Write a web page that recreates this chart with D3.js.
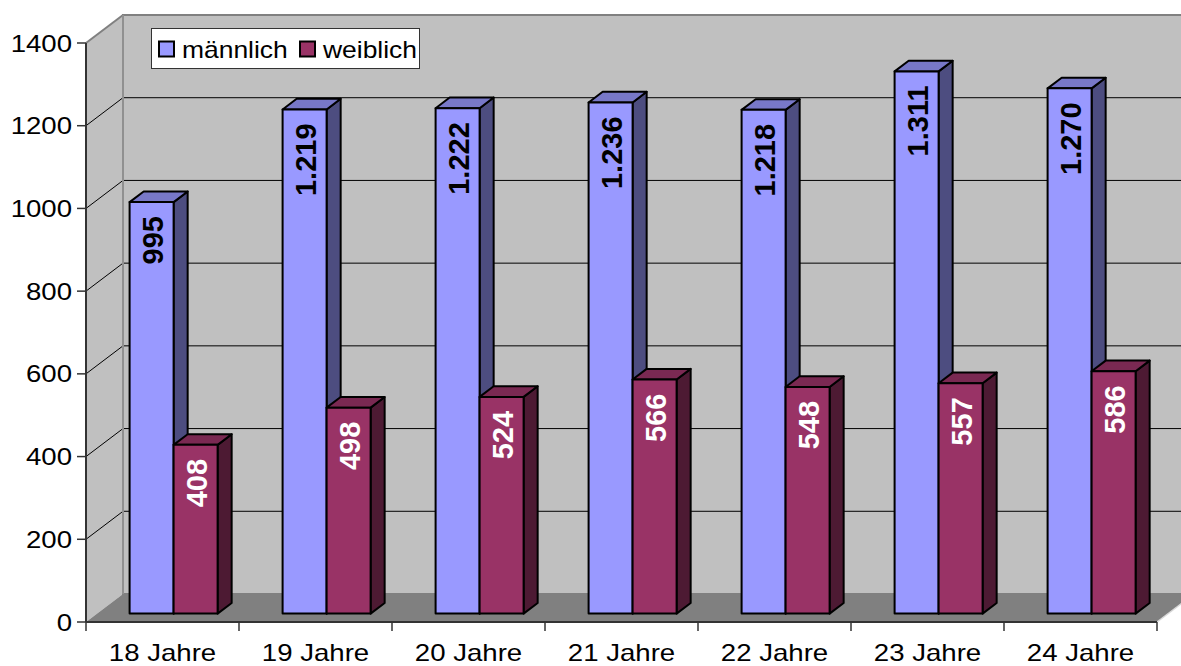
<!DOCTYPE html>
<html lang="de">
<head>
    <meta charset="UTF-8">
    <title>männlich / weiblich nach Alter</title>
    <script src="https://d3js.org/d3.v7.min.js"></script>
    <style>
        body { margin: 0; background: #fff; }
        svg { display: block; }
        text { font-family: Arial, "Liberation Sans", sans-serif; }
    </style>
</head>
<body>
    <svg width="1181" height="666"></svg>
    <script>
        const categories = ["18 Jahre", "19 Jahre", "20 Jahre", "21 Jahre", "22 Jahre", "23 Jahre", "24 Jahre"];
        const maennlich = [995, 1219, 1222, 1236, 1218, 1311, 1270];
        const weiblich = [408, 498, 524, 566, 548, 557, 586];
        const yTicks = [0, 200, 400, 600, 800, 1000, 1200, 1400];
        const seriesNames = ["männlich", "weiblich"];

        const series = [
            { name: seriesNames[0], values: maennlich, front: "#9999ff", top: "#7878c8", side: "#4d4d80", label: "#000" },
            { name: seriesNames[1], values: weiblich, front: "#993366", top: "#7a2952", side: "#4d1a33", label: "#fff" }
        ];

        // 3d depth offset of the plot box
        const DX = 37, DY = -28;
        const zFront = 0.3, zBack = 0.68;
        const stretch = 1.2; // text in the original is drawn wider than normal

        const svg = d3.select("svg");

        const x = d3.scaleBand().domain(categories).range([86, 1157]);
        const y = d3.scaleLinear().domain([0, 1400]).range([622, 43]);
        const groupW = 88;
        const xs = d3.scaleBand().domain(seriesNames).range([0, groupW]);

        const x0 = 86, x1 = 1157, yTop = y(1400), yBase = y(0);
        const poly = pts => pts.map(p => p.join(",")).join(" ");

        // left wall
        svg.append("polygon")
            .attr("points", poly([[x0, yTop], [x0 + DX, yTop + DY], [x0 + DX, yBase + DY], [x0, yBase]]))
            .attr("fill", "#c0c0c0");

        // back wall
        svg.append("rect")
            .attr("x", x0 + DX).attr("y", yTop + DY)
            .attr("width", x1 - x0 + 2).attr("height", yBase - yTop)
            .attr("fill", "#c0c0c0")
            .attr("stroke", "#808080").attr("stroke-width", 2);

        // floor
        svg.append("polygon")
            .attr("points", poly([[x0, yBase], [x0 + DX, yBase + DY], [x1 + DX, yBase + DY], [x1, yBase]]))
            .attr("fill", "#808080");
        svg.append("line")
            .attr("x1", x1).attr("y1", yBase).attr("x2", x1 + DX).attr("y2", yBase + DY)
            .attr("stroke", "#d8d8d8").attr("stroke-width", 1.5);

        // gridlines on back wall and left wall
        yTicks.filter(t => t > 0 && t < 1400).forEach(t => {
            svg.append("line")
                .attr("x1", x0 + DX).attr("x2", x1 + DX + 10)
                .attr("y1", y(t) + DY).attr("y2", y(t) + DY)
                .attr("stroke", "#000").attr("stroke-width", 1);
            svg.append("line")
                .attr("x1", x0).attr("y1", y(t))
                .attr("x2", x0 + DX).attr("y2", y(t) + DY)
                .attr("stroke", "#000").attr("stroke-width", 1);
        });

        // wall edges
        svg.append("line")
            .attr("x1", x0).attr("y1", yTop).attr("x2", x0 + DX).attr("y2", yTop + DY)
            .attr("stroke", "#808080").attr("stroke-width", 2);
        svg.append("line")
            .attr("x1", x0 + DX).attr("y1", yTop + DY).attr("x2", x0 + DX).attr("y2", yBase + DY)
            .attr("stroke", "#909090").attr("stroke-width", 2);

        // bars
        const fmt = d3.formatLocale({ decimal: ",", thousands: ".", grouping: [3], currency: ["", "€"] }).format(",d");
        const fdx = zFront * DX, fdy = zFront * DY;
        const ddx = (zBack - zFront) * DX, ddy = (zBack - zFront) * DY;

        categories.forEach((c, i) => {
            series.forEach(s => {
                const v = s.values[i];
                const xl = x(c) + (x.bandwidth() - groupW) / 2 + xs(s.name) + fdx;
                const xr = xl + xs.bandwidth();
                const yb = y(0) + fdy;
                const yt = y(v) + fdy;
                const g = svg.append("g")
                    .attr("stroke", "#000").attr("stroke-width", 2).attr("stroke-linejoin", "round");
                g.append("polygon")
                    .attr("points", poly([[xr, yt], [xr + ddx, yt + ddy], [xr + ddx, yb + ddy], [xr, yb]]))
                    .attr("fill", s.side);
                g.append("polygon")
                    .attr("points", poly([[xl, yt], [xl + ddx, yt + ddy], [xr + ddx, yt + ddy], [xr, yt]]))
                    .attr("fill", s.top);
                g.append("rect")
                    .attr("x", xl).attr("y", yt)
                    .attr("width", xr - xl).attr("height", yb - yt)
                    .attr("fill", s.front);
                svg.append("text")
                    .attr("transform", `translate(${(xl + xr) / 2 + 11}, ${yt + 14}) rotate(-90)`)
                    .attr("text-anchor", "end")
                    .attr("font-size", 29)
                    .attr("font-weight", "bold")
                    .attr("fill", s.label)
                    .text(fmt(v));
            });
        });

        // value axis
        svg.append("line")
            .attr("x1", x0).attr("x2", x0).attr("y1", yTop).attr("y2", yBase)
            .attr("stroke", "#333").attr("stroke-width", 2);
        yTicks.forEach(t => {
            svg.append("line")
                .attr("x1", x0 - 9).attr("x2", x0).attr("y1", y(t)).attr("y2", y(t))
                .attr("stroke", "#333").attr("stroke-width", 1.5);
            svg.append("text")
                .attr("transform", `translate(72, ${y(t) + 8.5}) scale(${stretch}, 1)`)
                .attr("text-anchor", "end")
                .attr("font-size", 23)
                .attr("fill", "#000")
                .text(t);
        });

        // category axis
        svg.append("line")
            .attr("x1", x0).attr("x2", x1).attr("y1", yBase).attr("y2", yBase)
            .attr("stroke", "#333").attr("stroke-width", 2);
        categories.concat([null]).forEach(c => {
            const xt = c ? x(c) : x1;
            svg.append("line")
                .attr("x1", xt).attr("x2", xt).attr("y1", yBase).attr("y2", yBase + 9)
                .attr("stroke", "#333").attr("stroke-width", 1.5);
        });
        categories.forEach(c => {
            svg.append("text")
                .attr("transform", `translate(${x(c) + x.bandwidth() / 2}, 661) scale(${stretch}, 1)`)
                .attr("text-anchor", "middle")
                .attr("font-size", 23)
                .attr("fill", "#000")
                .text(c);
        });

        // legend
        const legend = svg.append("g");
        legend.append("rect")
            .attr("x", 151.5).attr("y", 28.5).attr("width", 268).attr("height", 40)
            .attr("fill", "#fff").attr("stroke", "#333").attr("stroke-width", 1);
        const legendX = [158, 299];
        series.forEach((s, i) => {
            legend.append("rect")
                .attr("x", legendX[i] + 1).attr("y", 41.5).attr("width", 15).attr("height", 15)
                .attr("fill", s.front).attr("stroke", "#000").attr("stroke-width", 2);
            legend.append("text")
                .attr("transform", `translate(${legendX[i] + 24}, 57.5) scale(1.15, 1)`)
                .attr("font-size", 23)
                .attr("fill", "#000")
                .text(s.name);
        });
    </script>
</body>
</html>
